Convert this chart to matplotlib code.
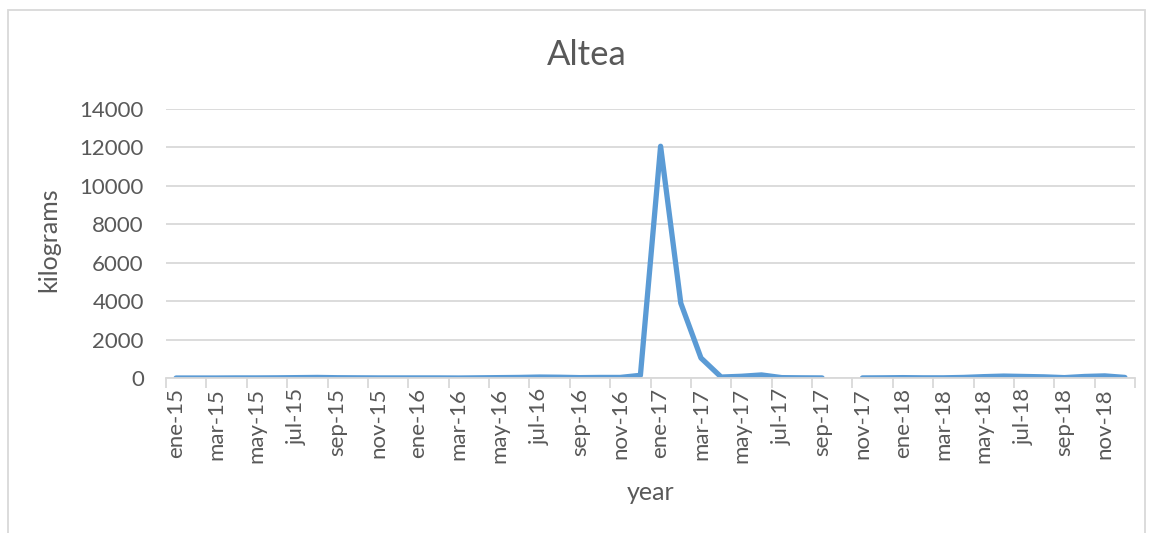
import numpy as np
import matplotlib.pyplot as plt
from matplotlib.patches import Rectangle

plt.rcParams['font.family'] = ['Lato', 'DejaVu Sans']

month_names = ['ene', 'feb', 'mar', 'abr', 'may', 'jun', 'jul', 'ago', 'sep', 'oct', 'nov', 'dic']
years = ['15', '16', '17', '18']
months = [f'{m}-{y}' for y in years for m in month_names]

# monthly kilograms, oct-17 has no record
kilograms = [
    10, 10, 10, 15, 15, 20, 30, 40, 25, 20, 15, 15,        # 2015
    15, 15, 10, 20, 30, 40, 60, 50, 30, 40, 40, 150,       # 2016
    12050, 3900, 1050, 60, 100, 170, 30, 20, 15, np.nan, 15, 20,  # 2017
    30, 20, 20, 40, 80, 110, 90, 70, 30, 90, 120, 40,      # 2018
]

grey = '#595959'
grid = '#d9d9d9'

fig = plt.figure(figsize=(11.52, 5.33), dpi=100)
ax = fig.add_axes([166 / 1152, 1 - 378.2 / 533, (1135 - 166) / 1152, (378.2 - 108.7) / 533])

x = np.arange(len(months))
ax.plot(x, kilograms, color='#5b9bd5', lw=3.8, solid_capstyle='round', solid_joinstyle='round')

ax.set_xlim(-0.5, len(months) - 0.5)
ax.set_ylim(0, 14000)
ax.set_yticks(range(0, 14001, 2000))
ax.yaxis.grid(True, color=grid, lw=1.3)
ax.set_axisbelow(True)

# labels every second month, tick marks on category boundaries
ax.set_xticks(x[::2])
ax.set_xticklabels(months[::2], rotation=90)
ax.set_xticks(np.arange(-0.5, len(months), 2), minor=True)
ax.tick_params(axis='x', which='major', length=0, pad=7, labelsize=16, labelcolor=grey)
ax.tick_params(axis='x', which='minor', length=7, width=1.3, color=grid)
ax.tick_params(axis='y', length=0, pad=16, labelsize=16, labelcolor=grey)

for side in ['top', 'right', 'left']:
    ax.spines[side].set_visible(False)
ax.spines['bottom'].set_color(grid)
ax.spines['bottom'].set_linewidth(1.3)

ax.set_ylabel('kilograms', fontsize=18, color=grey)
ax.yaxis.set_label_coords(60 / 1152, 1 - 240 / 533, transform=fig.transFigure)
ax.set_xlabel('year', fontsize=18, color=grey, va='center')
ax.xaxis.set_label_coords(651 / 1152, 1 - 492 / 533, transform=fig.transFigure)
fig.text(587 / 1152, 1 - 55 / 533, 'Altea', ha='center', va='center', fontsize=25, color=grey)

# chart area frame
fig.patches.append(Rectangle((8 / 1152, -0.05), (1145 - 8) / 1152, 1 - 10 / 533 + 0.05,
                             transform=fig.transFigure, fill=False, ec=grid, lw=1.3))

fig.savefig('out.png', dpi=100, facecolor='white')
